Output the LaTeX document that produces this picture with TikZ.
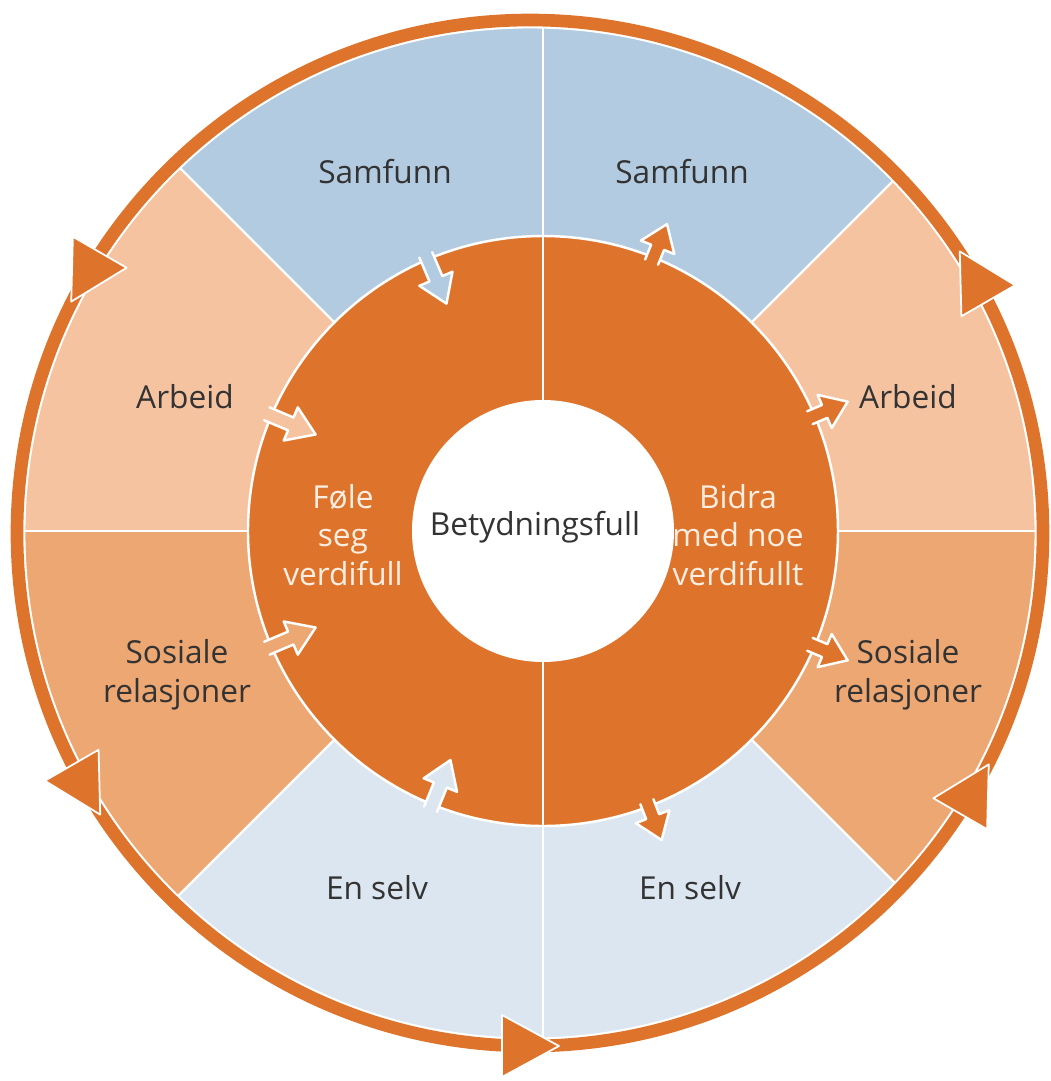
\documentclass[tikz,border=0pt]{standalone}
\usepackage{fontspec}
\setmainfont{Open Sans}
\usetikzlibrary{calc}
\definecolor{ringorange}{HTML}{DE742C}
\definecolor{samfunnblue}{HTML}{B3CBE0}
\definecolor{arbeidpeach}{HTML}{F6C3A0}
\definecolor{sosialepeach}{HTML}{EDA772}
\definecolor{selvblue}{HTML}{DCE6F0}
\definecolor{labelgray}{HTML}{333333}
\definecolor{cream}{HTML}{FDEEE2}

\begin{document}
\begin{tikzpicture}[line cap=round,line join=round,x=0.01cm,y=0.01cm, every node/.style={font=\fontsize{9}{11}\selectfont, align=center}]
\useasboundingbox (-543,-550) rectangle (507,531);
% Centres
\coordinate (C) at (0,0);
\coordinate (R) at (-13,-2);

% Sectors
\begin{scope}
\clip (R) circle (505);
\foreach \a/\col in {0/arbeidpeach,45/samfunnblue,90/samfunnblue,135/arbeidpeach,180/sosialepeach,225/selvblue,270/selvblue,315/sosialepeach}
  \fill[\col] (C) -- (\a:900) -- (\a+45:900) -- cycle;
\foreach \a in {0,45,...,315} \draw[white, line width=0.7pt] (C) -- (\a:900);
\end{scope}

% Outer ring
\draw[white, line width=4.8pt] (R) circle (513);
\draw[ringorange, line width=3.6pt] (R) circle (513);
\foreach \a in {30,150,210,270,330}
  \filldraw[ringorange, draw=white, line width=0.5pt, shift={(R)}, rotate=\a] (482,-28) -- (544,-28) -- (513,29) -- cycle;

% Inner disk
\filldraw[ringorange, draw=white, line width=0.7pt] (C) circle (295);
\draw[white, line width=0.7pt] (90:295) -- (270:295);

% Small arrows, out on the right, in on the left
\foreach \a in {68,23,-23,-69}
  \filldraw[ringorange, draw=white, line width=0.7pt, rotate=\a] (290,-7) -- (306,-7) -- (306,-18) -- (331,0) -- (306,18) -- (306,7) -- (290,7);
\foreach \a/\col in {113/samfunnblue,157/arbeidpeach,203/sosialepeach,248/selvblue}
  \filldraw[fill=\col, draw=white, line width=0.7pt, rotate=\a] (300,7) -- (274,7) -- (274,18) -- (247,0) -- (274,-18) -- (274,-7) -- (300,-7);

% White centre
\fill[white] (C) circle (131);

% Labels
\node[labelgray] (samfunnL) at (-158,359) {Samfunn};
\node[labelgray] (samfunnR) at (139,359) {Samfunn};
\node[labelgray] (arbeidL) at (-358,134) {Arbeid};
\node[labelgray] (arbeidR) at (365,134) {Arbeid};
\node[labelgray] (sosialeL) at (-366,-144) {Sosiale\\relasjoner};
\node[labelgray] (sosialeR) at (365,-144) {Sosiale\\relasjoner};
\node[labelgray] (selvL) at (-166,-357) {En selv};
\node[labelgray] (selvR) at (147,-357) {En selv};
\node[cream] (fole) at (-200,-4) {Føle\\seg\\verdifull};
\node[cream] (bidra) at (195,-4) {Bidra\\med noe\\verdifullt};
\node[labelgray] (betyd) at (-8,4) {Betydningsfull};
\end{tikzpicture}
\end{document}
